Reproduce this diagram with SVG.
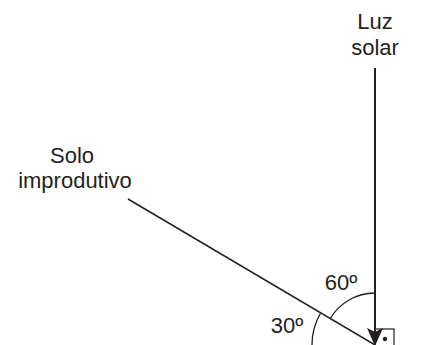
<svg xmlns="http://www.w3.org/2000/svg" width="429" height="345" viewBox="0 0 429 345">
<style>
text{font-family:"Liberation Sans",Arial,sans-serif;font-size:22px;fill:#231f20;text-anchor:middle}
.ln{stroke:#231f20;fill:none}
</style>
<rect width="429" height="345" fill="#fff"/>
<g id="luz-solar"><text x="375" y="29">Luz</text><text x="375" y="55">solar</text></g>
<g id="solo-improdutivo"><text x="72" y="163">Solo</text><text x="75" y="188">improdutivo</text></g>
<g id="angulo-60"><text x="341" y="290">60º</text><path class="ln" stroke-width="1.3" d="M375,293 A52,52 0 0 0 330,319"/></g>
<g id="angulo-30"><text x="287" y="333">30º</text><path class="ln" stroke-width="1.3" d="M320.4,313.5 A63,63 0 0 0 312,345"/></g>
<g id="angulo-reto"><rect class="ln" stroke-width="1.2" x="375" y="329" width="19" height="20"/><circle cx="385" cy="339" r="2.2" fill="#231f20"/></g>
<g id="connectors">
<line class="ln" stroke-width="2" x1="375" y1="68" x2="375" y2="332"/>
<path d="M375,346 L367,328 L375,332 L383,328 Z" fill="#231f20"/>
<line class="ln" stroke-width="1.5" x1="128" y1="199" x2="375" y2="345"/>
</g>
</svg>
